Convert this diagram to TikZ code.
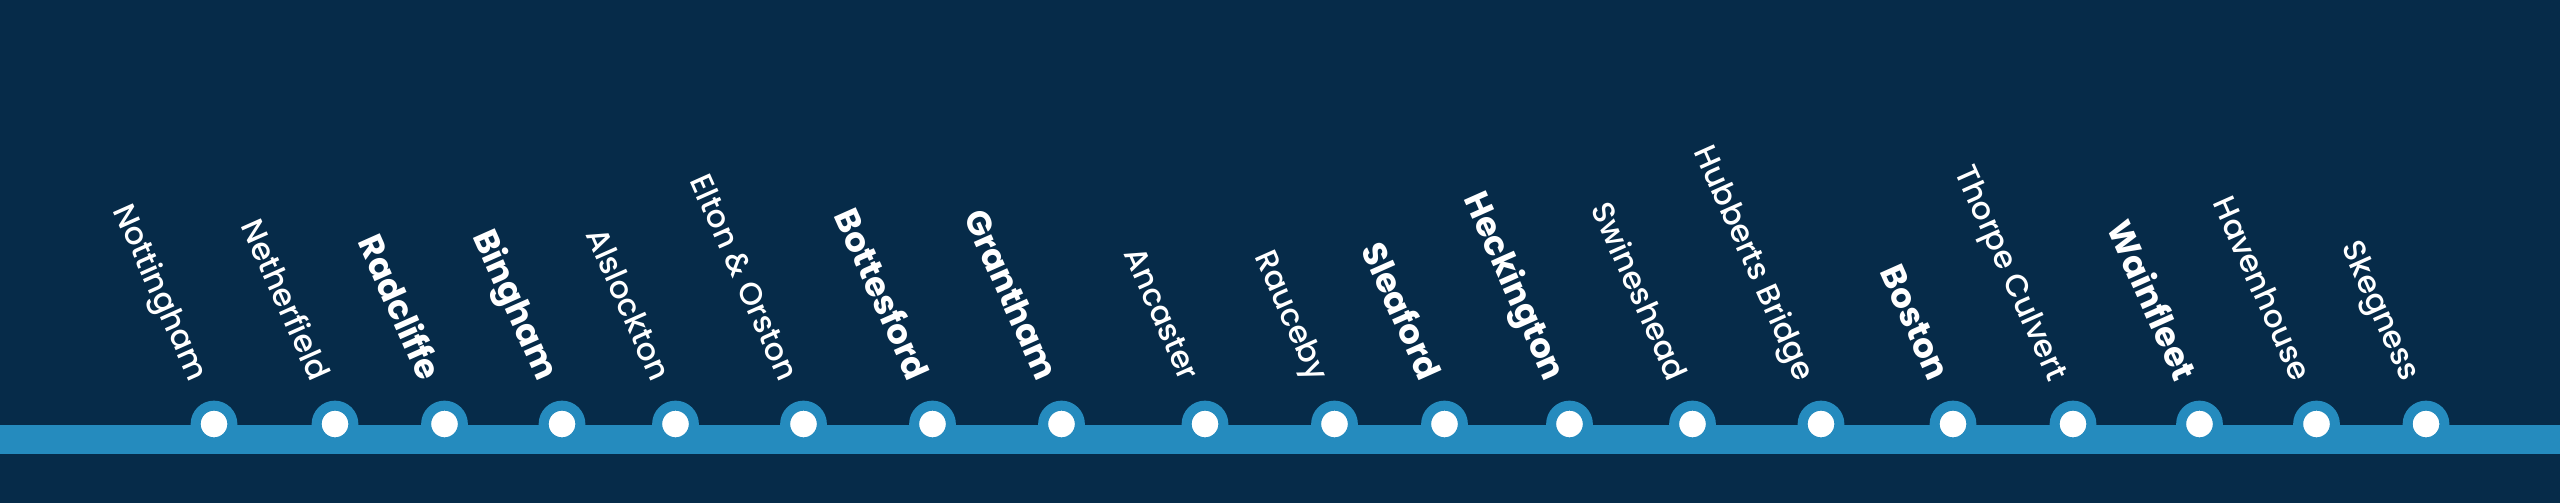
\documentclass[tikz,border=0pt]{standalone}
\usepackage{fontspec}
\setmainfont{Poppins}[UprightFont=* Medium, BoldFont=* Bold]
\definecolor{bgnavy}{RGB}{6,43,73}
\definecolor{lineblue}{RGB}{37,139,190}
\tikzset{
  stationdot/.style={circle, fill=white, draw=lineblue, line width=5pt, minimum size=18.35pt, inner sep=0pt},
  stationlabel/.style={text=white, font=\fontsize{15.6}{18}\selectfont, rotate=-66, anchor=mid east, inner sep=0pt},
  majorlabel/.style={stationlabel, font=\fontsize{17}{19}\selectfont\bfseries},
}
\begin{document}
\begin{tikzpicture}[x=0.5pt, y=-0.5pt]
\fill[bgnavy] (0,0) rectangle (2560,503);
\useasboundingbox (0,0) rectangle (2560,503);
\coordinate (lineW) at (0,439.5);
\coordinate (lineE) at (2560,439.5);
\draw[lineblue, line width=14.5pt] (lineW) -- (lineE);
\foreach \n/\x/\name/\sty in {
  1/214/Nottingham/stationlabel,
  2/335/Netherfield/stationlabel,
  3/444.5/Radcliffe/majorlabel,
  4/562/Bingham/majorlabel,
  5/675.5/Alslockton/stationlabel,
  6/803.5/Elton \& Orston/stationlabel,
  7/932.5/Bottesford/majorlabel,
  8/1061.5/Grantham/majorlabel,
  9/1205/Ancaster/stationlabel,
  10/1334.5/Rauceby/stationlabel,
  11/1444.5/Sleaford/majorlabel,
  12/1569.5/Heckington/majorlabel,
  13/1692.5/Swineshead/stationlabel,
  14/1821/Hubberts Bridge/stationlabel,
  15/1953/Boston/majorlabel,
  16/2073/Thorpe Culvert/stationlabel,
  17/2199.5/Wainfleet/majorlabel,
  18/2316.5/Havenhouse/stationlabel,
  19/2426/Skegness/stationlabel}
{
  \node[stationdot] (s\n) at (\x,424) {};
  \node[\sty] (l\n) at ([xshift=-9.5pt,yshift=21.5pt]s\n.center) {\name};
}
\end{tikzpicture}
\end{document}
